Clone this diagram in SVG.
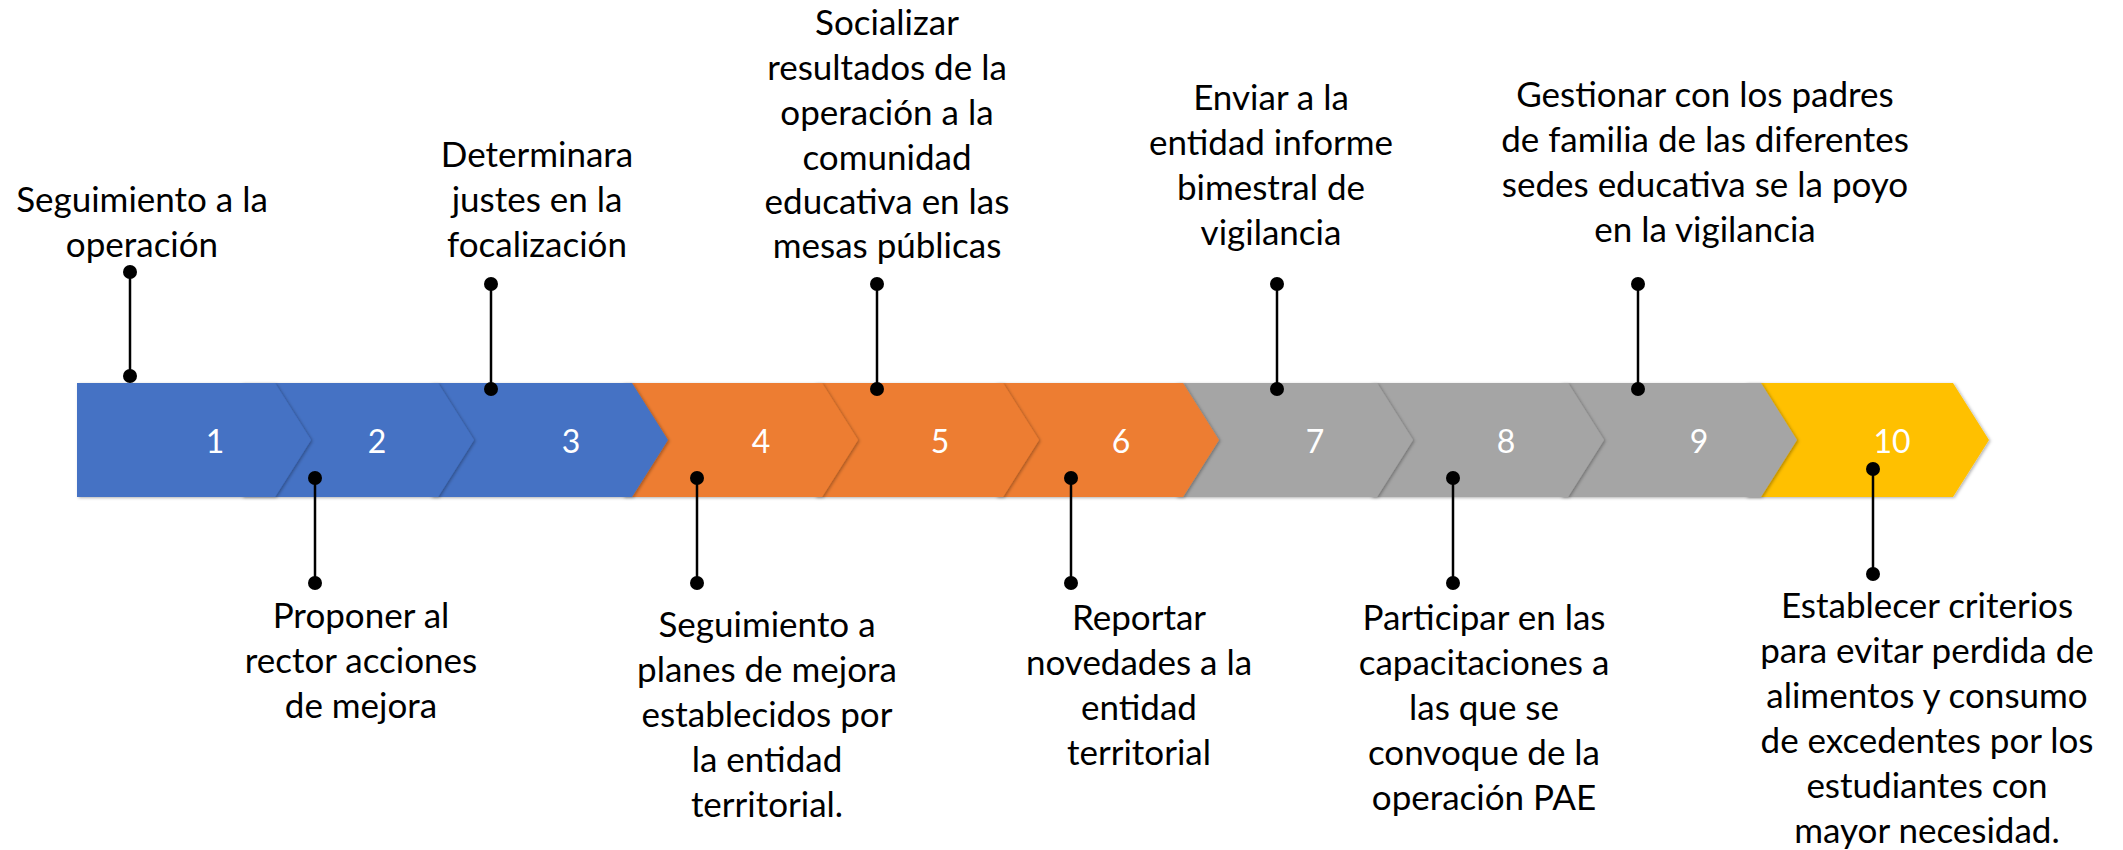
<svg xmlns="http://www.w3.org/2000/svg" width="2123" height="850" viewBox="0 0 2123 850">
<defs>
<filter id="sh" x="-10%" y="-10%" width="130%" height="130%">
<feDropShadow dx="1.5" dy="1" stdDeviation="1.5" flood-color="#000" flood-opacity="0.3"/>
</filter>
<style>
.blue{fill:#4472C4}
.orange{fill:#ED7D31}
.gray{fill:#A5A5A5}
.gold{fill:#FFC000}
.num{font-family:Lato,"Liberation Sans",sans-serif;font-size:32px;fill:#fff;text-anchor:middle}
.lbl{font-family:Lato,"Liberation Sans",sans-serif;font-size:35px;fill:#000;text-anchor:middle}
.ln{stroke:#000;stroke-width:2.5;fill:none}
.dot{fill:#000}
</style>
</defs>
<rect width="2123" height="850" fill="#fff"/>
<g id="chevrons">
<g id="step10"><path class="gold" filter="url(#sh)" d="M1745,383 L1953,383 L1989,440 L1953,497 L1745,497 L1781,440 Z"/><text class="num" x="1892" y="453">10</text></g>
<g id="step9"><path class="gray" filter="url(#sh)" d="M1560,383 L1761,383 L1797,440 L1761,497 L1560,497 L1596,440 Z"/><text class="num" x="1699" y="453">9</text></g>
<g id="step8"><path class="gray" filter="url(#sh)" d="M1370,383 L1568,383 L1604,440 L1568,497 L1370,497 L1406,440 Z"/><text class="num" x="1506" y="453">8</text></g>
<g id="step7"><path class="gray" filter="url(#sh)" d="M1175,383 L1377,383 L1413,440 L1377,497 L1175,497 L1211,440 Z"/><text class="num" x="1315" y="453">7</text></g>
<g id="step6"><path class="orange" filter="url(#sh)" d="M995,383 L1183,383 L1219,440 L1183,497 L995,497 L1031,440 Z"/><text class="num" x="1121" y="453">6</text></g>
<g id="step5"><path class="orange" filter="url(#sh)" d="M814,383 L1003,383 L1039,440 L1003,497 L814,497 L850,440 Z"/><text class="num" x="940" y="453">5</text></g>
<g id="step4"><path class="orange" filter="url(#sh)" d="M622,383 L822,383 L858,440 L822,497 L622,497 L658,440 Z"/><text class="num" x="761" y="453">4</text></g>
<g id="step3"><path class="blue" filter="url(#sh)" d="M430,383 L632,383 L668,440 L632,497 L430,497 L466,440 Z"/><text class="num" x="571" y="453">3</text></g>
<g id="step2"><path class="blue" filter="url(#sh)" d="M241,383 L438,383 L474,440 L438,497 L241,497 L277,440 Z"/><text class="num" x="377" y="453">2</text></g>
<g id="step1"><path class="blue" filter="url(#sh)" d="M77,383 L275,383 L311,440 L275,497 L77,497 Z"/><text class="num" x="215" y="453">1</text></g>
</g>
<g id="connectors">
<line class="ln" x1="130" y1="272" x2="130" y2="376"/><circle class="dot" cx="130" cy="272" r="7"/><circle class="dot" cx="130" cy="376" r="7"/>
<line class="ln" x1="491" y1="284" x2="491" y2="389"/><circle class="dot" cx="491" cy="284" r="7"/><circle class="dot" cx="491" cy="389" r="7"/>
<line class="ln" x1="877" y1="284" x2="877" y2="389"/><circle class="dot" cx="877" cy="284" r="7"/><circle class="dot" cx="877" cy="389" r="7"/>
<line class="ln" x1="1277" y1="284" x2="1277" y2="389"/><circle class="dot" cx="1277" cy="284" r="7"/><circle class="dot" cx="1277" cy="389" r="7"/>
<line class="ln" x1="1638" y1="284" x2="1638" y2="389"/><circle class="dot" cx="1638" cy="284" r="7"/><circle class="dot" cx="1638" cy="389" r="7"/>
<line class="ln" x1="315" y1="478" x2="315" y2="583"/><circle class="dot" cx="315" cy="478" r="7"/><circle class="dot" cx="315" cy="583" r="7"/>
<line class="ln" x1="697" y1="478" x2="697" y2="583"/><circle class="dot" cx="697" cy="478" r="7"/><circle class="dot" cx="697" cy="583" r="7"/>
<line class="ln" x1="1071" y1="478" x2="1071" y2="583"/><circle class="dot" cx="1071" cy="478" r="7"/><circle class="dot" cx="1071" cy="583" r="7"/>
<line class="ln" x1="1453" y1="478" x2="1453" y2="583"/><circle class="dot" cx="1453" cy="478" r="7"/><circle class="dot" cx="1453" cy="583" r="7"/>
<line class="ln" x1="1873" y1="469" x2="1873" y2="574"/><circle class="dot" cx="1873" cy="469" r="7"/><circle class="dot" cx="1873" cy="574" r="7"/>
</g>
<g id="label1"><text class="lbl" x="142"><tspan x="142" y="212">Seguimiento a la</tspan><tspan x="142" y="257">operación</tspan></text></g>
<g id="label3"><text class="lbl" x="537"><tspan x="537" y="167">Determinara</tspan><tspan x="537" y="212">justes en la</tspan><tspan x="537" y="257">focalización</tspan></text></g>
<g id="label5"><text class="lbl" x="887"><tspan x="887" y="35">Socializar</tspan><tspan x="887" y="80">resultados de la</tspan><tspan x="887" y="125">operación a la</tspan><tspan x="887" y="170">comunidad</tspan><tspan x="887" y="214">educativa en las</tspan><tspan x="887" y="258">mesas públicas</tspan></text></g>
<g id="label7"><text class="lbl" x="1271"><tspan x="1271" y="110">Enviar a la</tspan><tspan x="1271" y="155">entidad informe</tspan><tspan x="1271" y="200">bimestral de</tspan><tspan x="1271" y="245">vigilancia</tspan></text></g>
<g id="label9"><text class="lbl" x="1705"><tspan x="1705" y="107">Gestionar con los padres</tspan><tspan x="1705" y="152">de familia de las diferentes</tspan><tspan x="1705" y="197">sedes educativa se la poyo</tspan><tspan x="1705" y="242">en la vigilancia</tspan></text></g>
<g id="label2"><text class="lbl" x="361"><tspan x="361" y="628">Proponer al</tspan><tspan x="361" y="673">rector acciones</tspan><tspan x="361" y="718">de mejora</tspan></text></g>
<g id="label4"><text class="lbl" x="767"><tspan x="767" y="637">Seguimiento a</tspan><tspan x="767" y="682">planes de mejora</tspan><tspan x="767" y="727">establecidos por</tspan><tspan x="767" y="772">la entidad</tspan><tspan x="767" y="817">territorial.</tspan></text></g>
<g id="label6"><text class="lbl" x="1139"><tspan x="1139" y="630">Reportar</tspan><tspan x="1139" y="675">novedades a la</tspan><tspan x="1139" y="720">entidad</tspan><tspan x="1139" y="765">territorial</tspan></text></g>
<g id="label8"><text class="lbl" x="1484"><tspan x="1484" y="630">Participar en las</tspan><tspan x="1484" y="675">capacitaciones a</tspan><tspan x="1484" y="720">las que se</tspan><tspan x="1484" y="765">convoque de la</tspan><tspan x="1484" y="810">operación PAE</tspan></text></g>
<g id="label10"><text class="lbl" x="1927"><tspan x="1927" y="618">Establecer criterios</tspan><tspan x="1927" y="663">para evitar perdida de</tspan><tspan x="1927" y="708">alimentos y consumo</tspan><tspan x="1927" y="753">de excedentes por los</tspan><tspan x="1927" y="798">estudiantes con</tspan><tspan x="1927" y="843">mayor necesidad.</tspan></text></g>
</svg>
